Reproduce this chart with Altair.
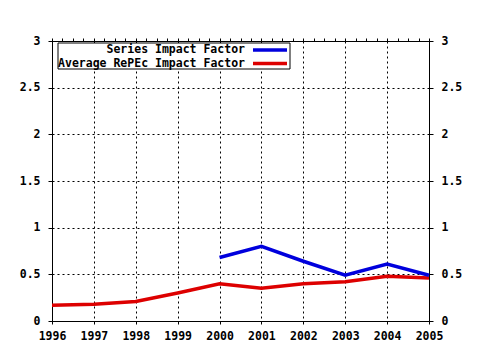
import altair as alt
import pandas as pd

years = [1996, 1997, 1998, 1999, 2000, 2001, 2002, 2003, 2004, 2005]
avg_values = [0.17, 0.18, 0.21, 0.30, 0.40, 0.35, 0.40, 0.42, 0.48, 0.46]
series_years = [2000, 2001, 2002, 2003, 2004, 2005]
series_values = [0.68, 0.80, 0.64, 0.49, 0.61, 0.49]
legend_labels = ["Series Impact Factor", "Average RePEc Impact Factor"]
colors = ["#0000dd", "#dd0000"]
y_ticks = [0, 0.5, 1, 1.5, 2, 2.5, 3]
x_ticks = [1996 + i * 0.25 for i in range(37)]

FONT = "DejaVu Sans Mono"
FS = 11.5

df = pd.concat([
    pd.DataFrame({"year": years, "value": avg_values, "series": legend_labels[1]}),
    pd.DataFrame({"year": series_years, "value": series_values, "series": legend_labels[0]}),
])
one = pd.DataFrame({"k": [0]})

xscale = alt.Scale(domain=[1996, 2005], nice=False, zero=False)
yscale = alt.Scale(domain=[0, 3], nice=False)
minor = "datum.value % 1 !== 0"

grid_op = {"condition": {"test": minor, "value": 0}, "value": 1}
lab_common = dict(labelFont=FONT, labelFontSize=FS, labelFontWeight="bold", labelColor="black",
                  labelFlush=False, labelOverlap=False, labelBound=False)

lines = alt.Chart(df).mark_line(strokeWidth=3.5, strokeCap="butt").encode(
    x=alt.X("year:Q", scale=xscale, axis=alt.Axis(
        orient="bottom", values=x_ticks, title=None, grid=True,
        gridOpacity=grid_op, gridColor="black", gridDash=[2, 3],
        labelExpr="datum.value % 1 === 0 ? datum.label : ''", format="d",
        tickSize=3, tickColor="black", domainColor="black", labelPadding=6, **lab_common)),
    y=alt.Y("value:Q", scale=yscale, axis=alt.Axis(
        orient="left", values=y_ticks, title=None, grid=True, format="~g",
        gridColor="black", gridDash=[2, 3], tickSize=4, tickColor="black",
        domainColor="black", labelPadding=8, **lab_common)),
    color=alt.Color("series:N", scale=alt.Scale(domain=legend_labels, range=colors), legend=None),
    detail="series:N",
)

axes2 = alt.Chart(df).mark_point(opacity=0).encode(
    x=alt.X("year:Q", scale=xscale, axis=alt.Axis(
        orient="top", values=x_ticks, title=None, labels=False, grid=False,
        tickSize=3, tickColor="black", domainColor="black")),
    y=alt.Y("value:Q", scale=yscale, axis=alt.Axis(
        orient="right", values=y_ticks, title=None, grid=False, format="~g",
        tickSize=4, tickColor="black", domainColor="black", labelPadding=8, **lab_common)),
)

box = alt.Chart(one).mark_rect(fill="white", stroke="black", strokeWidth=1).encode(
    x=alt.value(6), x2=alt.value(238), y=alt.value(2), y2=alt.value(28))

leg_layers = []
for i, (lab, col) in enumerate(zip(legend_labels, colors)):
    yy = 9 + i * 13.5
    leg_layers.append(alt.Chart(one).mark_text(
        align="right", baseline="middle", font=FONT, fontSize=FS, fontWeight="bold", color="black"
    ).encode(x=alt.value(193), y=alt.value(yy), text=alt.value(lab)))
    leg_layers.append(alt.Chart(one).mark_rule(color=col, strokeWidth=3.5).encode(
        x=alt.value(201), x2=alt.value(235), y=alt.value(yy)))

chart = alt.layer(lines, axes2, box, *leg_layers).resolve_scale(
    x="independent", y="independent"
).properties(
    width=377, height=280,
    autosize=alt.AutoSizeParams(type="none"),
    padding={"left": 52, "top": 41, "right": 51, "bottom": 29},
    background="white",
).configure_view(stroke="black", strokeWidth=1)

chart.save("out.html", embed_options={"renderer": "svg", "actions": False})
